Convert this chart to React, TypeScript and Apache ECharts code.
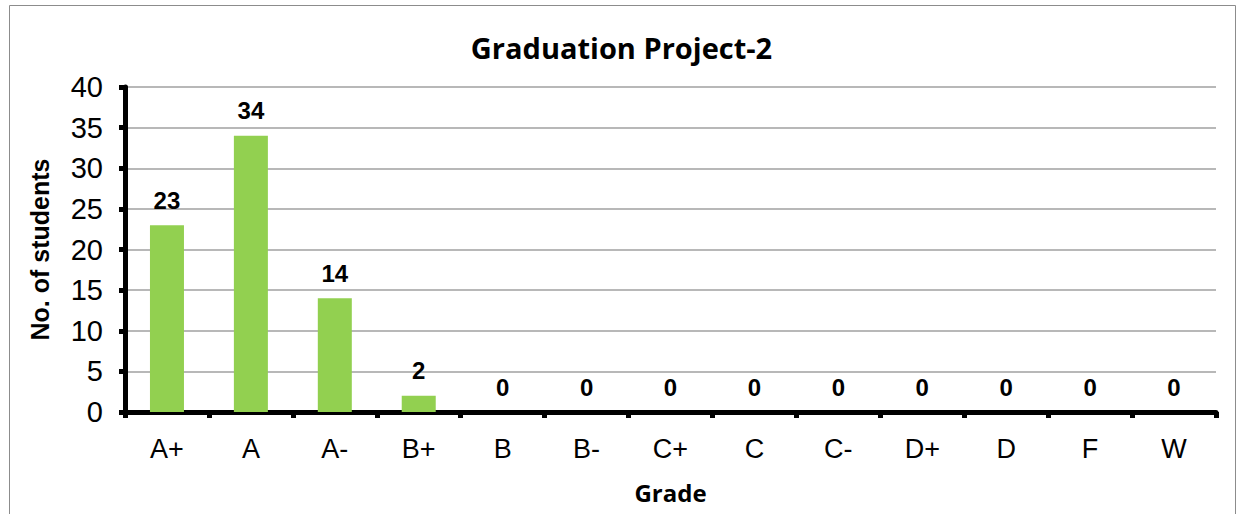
import React, { useEffect, useRef } from "react";
import * as echarts from "echarts";

const categories = ["A+", "A", "A-", "B+", "B", "B-", "C+", "C", "C-", "D+", "D", "F", "W"];
const students = [23, 34, 14, 2, 0, 0, 0, 0, 0, 0, 0, 0, 0];

export default function App() {
  const ref = useRef<HTMLDivElement>(null);
  useEffect(() => {
    const chart = echarts.init(ref.current!, null, { renderer: "svg" });
    chart.setOption({
      animation: false,
      backgroundColor: "#ffffff",
      title: {
        text: "Graduation Project-2",
        left: "center",
        top: 28,
        textStyle: { fontFamily: "Open Sans", fontWeight: "bold", fontSize: 29, color: "#000" },
      },
      graphic: [
        {
          type: "rect",
          shape: { x: 9.5, y: 5.5, width: 1226, height: 520 },
          style: { fill: "none", stroke: "#8c8c8c", lineWidth: 1 },
          silent: true,
        },
      ],
      grid: { left: 125, right: 27, top: 87, bottom: 102 },
      xAxis: {
        type: "category",
        data: categories,
        name: "Grade",
        nameLocation: "middle",
        nameGap: 68,
        nameTextStyle: { fontFamily: "Open Sans", fontWeight: "bold", fontSize: 24, color: "#000" },
        axisLine: { lineStyle: { color: "#000", width: 5 } },
        axisTick: { show: true, alignWithLabel: false, length: 6, lineStyle: { color: "#000", width: 5 } },
        axisLabel: { fontFamily: "Liberation Sans", fontSize: 27, color: "#000", margin: 23 },
      },
      yAxis: {
        type: "value",
        min: 0,
        max: 40,
        interval: 5,
        name: "No. of students",
        nameLocation: "middle",
        nameGap: 73,
        nameTextStyle: { fontFamily: "Liberation Sans", fontWeight: "bold", fontSize: 25, color: "#000" },
        axisLine: { show: true, lineStyle: { color: "#000", width: 5 } },
        axisTick: { show: true, length: 6, lineStyle: { color: "#000", width: 5 } },
        axisLabel: { fontFamily: "Liberation Sans", fontSize: 29, color: "#000", margin: 22 },
        splitLine: { lineStyle: { color: "#a0a0a0", width: 1.5 } },
      },
      series: [
        {
          type: "bar",
          data: students,
          barWidth: 34,
          itemStyle: { color: "#92d050" },
          label: {
            show: true,
            position: "top",
            distance: 13,
            fontFamily: "Liberation Sans",
            fontWeight: "bold",
            fontSize: 24,
            color: "#000",
          },
        },
      ],
    });
    return () => chart.dispose();
  }, []);
  return <div ref={ref} style={{ position: "fixed", left: 0, top: 0, width: 1243, height: 514 }} />;
}
